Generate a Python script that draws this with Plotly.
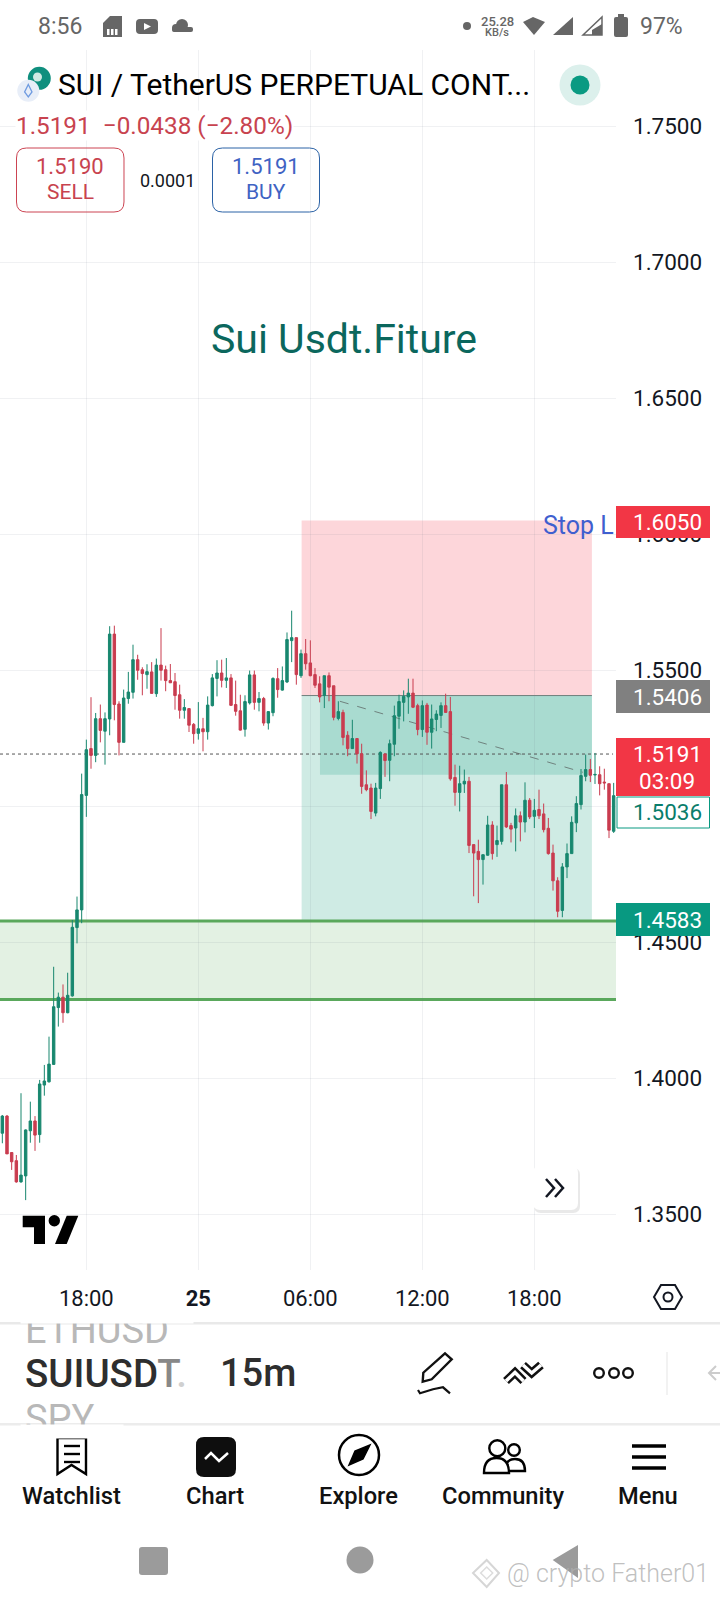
import pandas as pd
import plotly.graph_objects as go

W, H = 720, 1600

# 15m candles, 24th 13:30 -> 25th 22:15
open_ = [1.3797, 1.3860, 1.3726, 1.3696, 1.3618, 1.3640, 1.3806, 1.3842, 1.3792, 1.3974, 1.3986, 1.4050,
         1.4259, 1.4297, 1.4240, 1.4302, 1.4553, 1.4618, 1.5039, 1.5211, 1.5186, 1.5321, 1.5275, 1.5320,
         1.5632, 1.5375, 1.5234, 1.5395, 1.5418, 1.5538, 1.5501, 1.5483, 1.5493, 1.5413, 1.5518, 1.5501,
         1.5461, 1.5457, 1.5409, 1.5352, 1.5358, 1.5300, 1.5267, 1.5284, 1.5273, 1.5369, 1.5469, 1.5489,
         1.5462, 1.5471, 1.5373, 1.5350, 1.5282, 1.5379, 1.5482, 1.5381, 1.5395, 1.5305, 1.5343, 1.5468,
         1.5426, 1.5456, 1.5608, 1.5619, 1.5479, 1.5560, 1.5526, 1.5483, 1.5449, 1.5406, 1.5479, 1.5442,
         1.5322, 1.5344, 1.5260, 1.5211, 1.5248, 1.5192, 1.5078, 1.5066, 1.4974, 1.5064, 1.5191, 1.5168,
         1.5227, 1.5330, 1.5381, 1.5401, 1.5415, 1.5369, 1.5281, 1.5371, 1.5271, 1.5318, 1.5333, 1.5369,
         1.5347, 1.5105, 1.5050, 1.5081, 1.5091, 1.4858, 1.4833, 1.4803, 1.4819, 1.4930, 1.4858, 1.4870,
         1.5078, 1.4928, 1.4919, 1.4964, 1.4941, 1.5021, 1.4962, 1.4987, 1.4971, 1.4918, 1.4827, 1.4725,
         1.4616, 1.4776, 1.4825, 1.4938, 1.5005, 1.5109, 1.5134, 1.5114, 1.5115, 1.5088, 1.5082, 1.4907]
high = [1.3864, 1.3864, 1.3726, 1.3717, 1.3944, 1.3811, 1.3913, 1.3860, 1.3993, 1.4048, 1.4152, 1.4409,
        1.4314, 1.4344, 1.4387, 1.4581, 1.4667, 1.5119, 1.5244, 1.5400, 1.5342, 1.5373, 1.5344, 1.5661,
        1.5663, 1.5385, 1.5428, 1.5493, 1.5593, 1.5556, 1.5510, 1.5521, 1.5529, 1.5542, 1.5654, 1.5516,
        1.5522, 1.5489, 1.5446, 1.5393, 1.5360, 1.5305, 1.5382, 1.5324, 1.5403, 1.5485, 1.5536, 1.5538,
        1.5544, 1.5485, 1.5461, 1.5409, 1.5407, 1.5498, 1.5498, 1.5419, 1.5401, 1.5348, 1.5473, 1.5507,
        1.5513, 1.5638, 1.5718, 1.5619, 1.5575, 1.5614, 1.5609, 1.5507, 1.5477, 1.5479, 1.5491, 1.5442,
        1.5385, 1.5354, 1.5275, 1.5317, 1.5250, 1.5229, 1.5131, 1.5082, 1.5085, 1.5201, 1.5195, 1.5244,
        1.5369, 1.5409, 1.5425, 1.5468, 1.5468, 1.5376, 1.5388, 1.5379, 1.5373, 1.5352, 1.5381, 1.5413,
        1.5401, 1.5152, 1.5148, 1.5134, 1.5107, 1.4858, 1.4876, 1.4821, 1.4964, 1.4944, 1.4928, 1.5078,
        1.5125, 1.4938, 1.4991, 1.4980, 1.5087, 1.5029, 1.5026, 1.5060, 1.5009, 1.4956, 1.4858, 1.4738,
        1.4790, 1.4862, 1.4962, 1.5036, 1.5136, 1.5189, 1.5173, 1.5195, 1.5146, 1.5137, 1.5082, 1.5085]
low = [1.3760, 1.3721, 1.3662, 1.3615, 1.3615, 1.3551, 1.3762, 1.3732, 1.3762, 1.3935, 1.3983, 1.4048,
       1.4189, 1.4203, 1.4238, 1.4299, 1.4495, 1.4569, 1.4960, 1.5137, 1.5161, 1.5234, 1.5152, 1.5260,
       1.5315, 1.5186, 1.5234, 1.5376, 1.5395, 1.5464, 1.5407, 1.5431, 1.5413, 1.5401, 1.5461, 1.5422,
       1.5452, 1.5354, 1.5321, 1.5321, 1.5272, 1.5229, 1.5244, 1.5201, 1.5244, 1.5366, 1.5403, 1.5436,
       1.5434, 1.5369, 1.5332, 1.5277, 1.5255, 1.5373, 1.5354, 1.5348, 1.5295, 1.5281, 1.5330, 1.5398,
       1.5424, 1.5452, 1.5529, 1.5446, 1.5471, 1.5501, 1.5477, 1.5434, 1.5381, 1.5360, 1.5385, 1.5315,
       1.5315, 1.5223, 1.5183, 1.5210, 1.5156, 1.5045, 1.5054, 1.4952, 1.4962, 1.5026, 1.5107, 1.5091,
       1.5183, 1.5284, 1.5311, 1.5339, 1.5360, 1.5260, 1.5254, 1.5225, 1.5211, 1.5275, 1.5287, 1.5342,
       1.5093, 1.5001, 1.4980, 1.5048, 1.4827, 1.4668, 1.4643, 1.4711, 1.4817, 1.4803, 1.4813, 1.4858,
       1.4919, 1.4866, 1.4833, 1.4870, 1.4903, 1.4952, 1.4919, 1.4952, 1.4903, 1.4821, 1.4689, 1.4591,
       1.4591, 1.4735, 1.4825, 1.4904, 1.4987, 1.5091, 1.5088, 1.5081, 1.5039, 1.5060, 1.4882, 1.4901]
close = [1.3860, 1.3721, 1.3692, 1.3618, 1.3643, 1.3809, 1.3842, 1.3790, 1.3978, 1.3989, 1.4051, 1.4262,
         1.4297, 1.4240, 1.4304, 1.4554, 1.4618, 1.5042, 1.5207, 1.5186, 1.5321, 1.5278, 1.5321, 1.5632,
         1.5373, 1.5234, 1.5397, 1.5419, 1.5538, 1.5499, 1.5487, 1.5494, 1.5414, 1.5518, 1.5499, 1.5461,
         1.5453, 1.5406, 1.5352, 1.5362, 1.5297, 1.5266, 1.5284, 1.5273, 1.5371, 1.5471, 1.5489, 1.5462,
         1.5471, 1.5370, 1.5348, 1.5279, 1.5384, 1.5482, 1.5381, 1.5395, 1.5305, 1.5347, 1.5469, 1.5428,
         1.5461, 1.5612, 1.5619, 1.5483, 1.5560, 1.5523, 1.5479, 1.5444, 1.5401, 1.5479, 1.5437, 1.5326,
         1.5347, 1.5252, 1.5211, 1.5248, 1.5192, 1.5072, 1.5060, 1.4980, 1.5066, 1.5197, 1.5167, 1.5229,
         1.5332, 1.5384, 1.5403, 1.5415, 1.5363, 1.5281, 1.5369, 1.5271, 1.5320, 1.5338, 1.5369, 1.5344,
         1.5100, 1.5050, 1.5082, 1.5091, 1.4855, 1.4827, 1.4803, 1.4821, 1.4930, 1.4825, 1.4873, 1.5078,
         1.4923, 1.4915, 1.4964, 1.4941, 1.5021, 1.4960, 1.4984, 1.4964, 1.4913, 1.4825, 1.4725, 1.4613,
         1.4776, 1.4825, 1.4940, 1.5009, 1.5112, 1.5134, 1.5113, 1.5116, 1.5082, 1.5085, 1.4911, 1.5038]

times = pd.date_range("2024-10-24 13:30", periods=len(open_), freq="15min")

price_ticks = [1.35, 1.40, 1.45, 1.50, 1.55, 1.60, 1.65, 1.70, 1.75]
time_ticks = ["2024-10-24 18:00", "2024-10-25 00:00", "2024-10-25 06:00", "2024-10-25 12:00", "2024-10-25 18:00"]
time_labels = ["18:00", "<b>25</b>", "06:00", "12:00", "18:00"]
view_start, view_end = "2024-10-24 13:22:30", "2024-10-25 22:22:30"

# drawings on the chart
stop_price, entry_price, target_price = 1.6050, 1.5406, 1.4583
last_price = 1.5191
overlap_low = 1.5115
box_bottom = 1.4580
zone_top, zone_bottom = 1.4577, 1.4289
pos_start, pos_end = "2024-10-25 05:32", "2024-10-25 21:05"
overlap_start = "2024-10-25 06:31"
trend_x = ["2024-10-25 07:35", "2024-10-25 20:36"]
trend_y = [1.5385, 1.5124]

GREEN = "#18876f"
RED = "#c93c4f"
INK = "#131722"
GRID = "rgba(110,120,140,0.1)"
FONT = "Roboto"

fig = go.Figure()
fig.add_trace(go.Candlestick(
    x=times, open=open_, high=high, low=low, close=close,
    increasing=dict(line=dict(color=GREEN, width=1), fillcolor=GREEN),
    decreasing=dict(line=dict(color=RED, width=1), fillcolor=RED),
    showlegend=False, hoverinfo="skip",
))


def X(x):
    return x / W


def Y(y):
    return 1 - y / H


def pt(x, y):
    return f"{X(x):.5f},{Y(y):.5f}"


def shape(**kw):
    fig.add_shape(xref="paper", yref="paper", **kw)


def rect(x0, y0, x1, y1, fill, line=None, width=0):
    shape(type="rect", x0=X(x0), x1=X(x1), y0=Y(y0), y1=Y(y1), fillcolor=fill,
          line=dict(color=line or fill, width=width))


def rrect(x0, y0, x1, y1, r, fill="rgba(0,0,0,0)", line=None, width=0):
    p = "M" + pt(x0 + r, y0) + " L" + pt(x1 - r, y0) + " Q" + pt(x1, y0) + " " + pt(x1, y0 + r)
    p += " L" + pt(x1, y1 - r) + " Q" + pt(x1, y1) + " " + pt(x1 - r, y1)
    p += " L" + pt(x0 + r, y1) + " Q" + pt(x0, y1) + " " + pt(x0, y1 - r)
    p += " L" + pt(x0, y0 + r) + " Q" + pt(x0, y0) + " " + pt(x0 + r, y0) + " Z"
    shape(type="path", path=p, fillcolor=fill, line=dict(color=line or fill, width=width))


def dome(x0, y0, x1, y1, line, width):
    mid = (x0 + x1) / 2
    p = "M" + pt(x0, y1) + " Q" + pt(x0, y0) + " " + pt(mid, y0) + " Q" + pt(x1, y0) + " " + pt(x1, y1) + " Z"
    shape(type="path", path=p, fillcolor="#ffffff", line=dict(color=line, width=width))


def circle(cx, cy, r, fill="rgba(0,0,0,0)", line=None, width=0):
    shape(type="circle", x0=X(cx - r), x1=X(cx + r), y0=Y(cy - r), y1=Y(cy + r), fillcolor=fill,
          line=dict(color=line or fill, width=width))


def poly(pts, fill="rgba(0,0,0,0)", line=None, width=0, closed=True):
    p = "M" + " L".join(pt(a, b) for a, b in pts) + (" Z" if closed else "")
    shape(type="path", path=p, fillcolor=fill, line=dict(color=line or fill, width=width))


def label(x, y, text, size=22.5, color=INK, anchor="center", weight=400, bg=None):
    fig.add_annotation(xref="paper", yref="paper", x=X(x), y=Y(y), text=text, showarrow=False,
                       xanchor=anchor, yanchor="middle", bgcolor=bg, borderpad=0,
                       font=dict(family=FONT, size=size, color=color, weight=weight))


# position boxes and zone, these live in price/time
fig.add_shape(type="rect", x0=view_start, x1=view_end, y0=zone_bottom, y1=zone_top, layer="below",
              fillcolor="#e3f1e3", line_width=0)
fig.add_shape(type="rect", x0=pos_start, x1=pos_end, y0=entry_price, y1=stop_price, layer="below",
              fillcolor="#fdd6da", line_width=0)
fig.add_shape(type="rect", x0=pos_start, x1=pos_end, y0=box_bottom, y1=entry_price, layer="below",
              fillcolor="#cfebe4", line_width=0)
fig.add_shape(type="rect", x0=overlap_start, x1=pos_end, y0=overlap_low, y1=entry_price, layer="below",
              fillcolor="#a9dbd0", line_width=0)
fig.add_shape(type="line", x0=pos_start, x1=pos_end, y0=entry_price, y1=entry_price, layer="below",
              line=dict(color="#6f7f7b", width=1))
fig.add_shape(type="line", x0=trend_x[0], x1=trend_x[1], y0=trend_y[0], y1=trend_y[1], layer="below",
              line=dict(color="#6f827e", width=1, dash="dash"))
fig.add_shape(type="line", x0=view_start, x1="2024-10-25 22:13", y0=last_price, y1=last_price, layer="below",
              line=dict(color="#555555", width=1, dash="dot"))
for z in (zone_top, zone_bottom):
    fig.add_shape(type="line", x0=view_start, x1=view_end, y0=z, y1=z, layer="below",
                  line=dict(color="#5aa85c", width=3))

# price tags on the axis
rect(616, 506, 710, 538, "#f23645")
rect(616, 680, 710, 713, "#808080")
rect(616, 738, 710, 796, "#f23645")
rect(617, 797, 709.5, 828, "#ffffff", "#089981", 1)
rect(616, 903, 710, 936, "#089981")
label(667, 522, f"{stop_price:.4f}", color="#ffffff")
label(667, 697, f"{entry_price:.4f}", color="#ffffff")
label(667, 754, f"{last_price:.4f}", color="#ffffff")
label(667, 781, "03:09", color="#ffffff")
label(667, 812, "1.5036", color="#0a7d6b")
label(667, 920, f"{target_price:.4f}", color="#ffffff")

# chart texts
label(344, 339, "Sui Usdt.Fiture", size=41, color="#0b675d")
label(542, 525, "Stop L", size=25, color="#3f5fcf", anchor="left")

# tradingview mark
poly([(22.7, 1215.7), (45, 1215.7), (45, 1244), (34, 1244), (34, 1227.3), (22.7, 1227.3)], fill="#000000")
circle(54.3, 1220.7, 5.7, fill="#000000")
poly([(66.7, 1215.7), (78.3, 1215.7), (66.7, 1244), (55, 1244)], fill="#000000")

# scroll button
rrect(534, 1168, 580, 1213, 7, fill="#e9e9e9")
rrect(533, 1166, 578, 1210, 7, fill="#ffffff")
poly([(546, 1179), (554, 1188), (546, 1197)], line=INK, width=2.5, closed=False)
poly([(555, 1179), (563, 1188), (555, 1197)], line=INK, width=2.5, closed=False)

# settings hexagon
poly([(654, 1297), (661, 1285), (675, 1285), (682, 1297), (675, 1309), (661, 1309)], line=INK, width=2)
circle(668, 1297, 4.5, line=INK, width=2)

# status bar
GREY = "#666666"
label(36.5, 27, "8:56", size=23, color=GREY, anchor="left")
poly([(103, 23), (110, 16), (122, 16), (122, 37), (103, 37)], fill=GREY)
for bx in (107, 111, 115):
    rect(bx, 29, bx + 2.5, 35, "#ffffff")
rrect(136, 19, 158, 34, 4, fill=GREY)
poly([(144, 23), (144, 30), (151, 26.5)], fill="#ffffff")
circle(182, 25, 6, fill=GREY)
circle(176, 28, 4, fill=GREY)
rrect(172, 27, 193, 32, 2, fill=GREY)
circle(467, 26, 4, fill=GREY)
label(497, 21, "25.28", size=13, color=GREY, weight=500)
label(497, 32, "KB/s", size=11, color=GREY, weight=500)
poly([(523, 22), (533, 17), (545, 22), (534, 35)], fill=GREY)
poly([(553, 35), (573, 35), (573, 17)], fill=GREY)
poly([(583, 35), (602, 35), (602, 17)], line=GREY, width=1.5)
poly([(592, 35), (602, 35), (602, 24), (592, 30)], fill=GREY)
rrect(614, 17, 628, 37, 2, fill=GREY)
rect(618, 14, 624, 18, GREY)
label(639, 27, "97%", size=23, color=GREY, anchor="left")

# header
circle(39.3, 78.3, 11.5, fill="#0f8f7e")
circle(37.5, 77, 4.5, fill="#cfe9e3")
circle(28.3, 90.7, 11, fill="#e8eef8")
poly([(28.3, 84.5), (32, 92), (28.3, 97), (24.6, 92)], line="#6f9be0", width=1.3)
label(57, 85, "SUI / TetherUS PERPETUAL CONT...", size=30, color="#000000", anchor="left")
circle(580, 85, 20.5, fill="#dcf0ec")
circle(580, 85, 9.5, fill="#0a9a82")
label(14.5, 126, "1.5191  −0.0438 (−2.80%)", size=24.3, color="#c8434f", anchor="left", bg="#ffffff")
rrect(16.5, 148, 124, 212, 10, line="#cc4452", width=1)
label(70, 166, "1.5190", size=22, color="#c8434f")
label(70, 192, "SELL", size=21, color="#c8434f")
label(167.5, 180, "0.0001", size=18)
rrect(212.5, 148, 319.5, 212, 10, line="#2b62a6", width=1)
label(266, 166, "1.5191", size=22, color="#3f63c3")
label(266, 192, "BUY", size=21, color="#3f63c3")

# symbol strip
rect(0, 1322, 720, 1324.5, "#e9e9e9")
rect(0, 1423, 720, 1425.5, "#ececec")
label(23.5, 1329.5, "ETHUSD", size=38, color="#b8b8b8", anchor="left")
label(23.5, 1418.5, "SPY", size=38, color="#b8b8b8", anchor="left")
label(23.5, 1373, "SUIUSD<span style='color:#888888'>T</span><span style='color:#d0d0d0'>.</span>",
      size=38.5, color="#2e2e2e", anchor="left", weight=500)
label(218.5, 1373, "15m", size=38, color="#2e2e2e", anchor="left", weight=500)
# mask the clipped picker rows
fig.add_annotation(xref="paper", yref="paper", x=X(20), y=Y(1315.5), text=" ", showarrow=False, xanchor="left",
                   yanchor="middle", width=170, height=13, bgcolor="#ffffff")
fig.add_annotation(xref="paper", yref="paper", x=X(20), y=Y(1431.5), text=" ", showarrow=False, xanchor="left",
                   yanchor="middle", width=100, height=11, bgcolor="#ffffff")
# drawing tools
poly([(445, 1353.3), (451.7, 1359.3), (431.7, 1379.3), (422.7, 1381.7), (423.3, 1372.7)], line="#111111", width=2.4)
poly([(418, 1390), (420, 1393.3), (433, 1389.3), (443, 1387.3), (450, 1393.3)], line="#111111", width=2.2,
     closed=False)
for chevron in ([(506, 1381), (515, 1372.5), (523.5, 1381)], [(523, 1365), (531.7, 1373), (541, 1365)]):
    poly(chevron, line="#111111", width=8.5, closed=False)
    poly(chevron, line="#ffffff", width=3.5, closed=False)
for ox in (599, 614, 628):
    circle(ox, 1373, 4.8, line="#111111", width=2.4)
rect(666.5, 1352, 667.5, 1395, "#e5e5e5")
poly([(716, 1366), (709, 1373), (716, 1380)], line="#cccccc", width=2, closed=False)
rect(709, 1372, 720, 1374, "#cccccc")

# bottom nav
poly([(57.5, 1438), (86, 1438), (86, 1474), (71.5, 1465), (57.5, 1474)], line="#000000", width=2.4)
for ly in (1446, 1454, 1462):
    rect(64, ly - 1.2, 80, ly + 1.2, "#000000")
rrect(196, 1437, 236, 1477, 8, fill="#0e0e0e")
poly([(205, 1459), (211, 1453), (219, 1461), (228, 1453)], line="#ffffff", width=2.5, closed=False)
circle(359, 1455, 20, line="#000000", width=2.5)
poly([(370, 1445), (363, 1459), (349, 1465), (355, 1451)], line="#000000", width=1.5, fill="#000000")
circle(497.3, 1448.3, 8, line="#000000", width=2.4)
circle(514, 1450, 5.8, line="#000000", width=2.4)
dome(505, 1459, 525, 1471, "#000000", 2.4)
dome(484, 1458, 509, 1473, "#000000", 2.4)
for ly in (1446, 1457, 1468):
    rect(632, ly - 1.8, 666, ly + 1.8, "#000000")
label(71, 1496, "Watchlist", size=23.7, color="#111111", weight=500)
label(215, 1496, "Chart", size=23.7, color="#111111", weight=500)
label(358.5, 1496, "Explore", size=23.7, color="#111111", weight=500)
label(503.5, 1496, "Community", size=23.7, color="#111111", weight=500)
label(648, 1496, "Menu", size=23.7, color="#111111", weight=500)

# android keys and watermark
rrect(139, 1547, 168, 1575, 3, fill="#9b9b9b")
circle(360, 1560, 13.5, fill="#9b9b9b")
poly([(578, 1545), (552.7, 1560), (578, 1578)], fill="#9b9b9b")
poly([(486.7, 1560), (499, 1573), (486.7, 1587), (473, 1573)], line="#d6d6d6", width=2)
poly([(486.7, 1567), (492.7, 1573), (486.7, 1579), (480.7, 1573)], line="#dddddd", width=1.5)
label(506, 1573, "@ crypto Father01", size=25, color="rgba(175,175,175,0.8)", anchor="left", weight=300)

fig.update_layout(
    width=W, height=H, autosize=False, margin=dict(l=0, r=0, t=0, b=0),
    paper_bgcolor="#ffffff", plot_bgcolor="#ffffff", boxgap=0.25,
    showlegend=False, dragmode=False,
    font=dict(family=FONT, size=22.5, color=INK),
    xaxis=dict(domain=[0, X(616)], type="date", range=[view_start, view_end],
               rangeslider=dict(visible=False), tickmode="array", tickvals=time_ticks, ticktext=time_labels,
               showgrid=True, gridcolor=GRID, gridwidth=1, zeroline=False, showline=False, ticks="",
               ticklabelstandoff=13, tickfont=dict(family=FONT, size=22, color=INK)),
    yaxis=dict(domain=[Y(1270), Y(50)], range=[1.32941, 1.77794], side="right", tickmode="array",
               tickvals=price_ticks, tickformat=".4f", showgrid=True, gridcolor=GRID, gridwidth=1,
               zeroline=False, showline=False, ticks="", ticklabelstandoff=16,
               tickfont=dict(family=FONT, size=22.5, color=INK)),
)

# page body has a default margin, the picture must start at the corner
fig.write_html("out.html", config=dict(displayModeBar=False),
               post_script="document.body.style.margin='0';")
